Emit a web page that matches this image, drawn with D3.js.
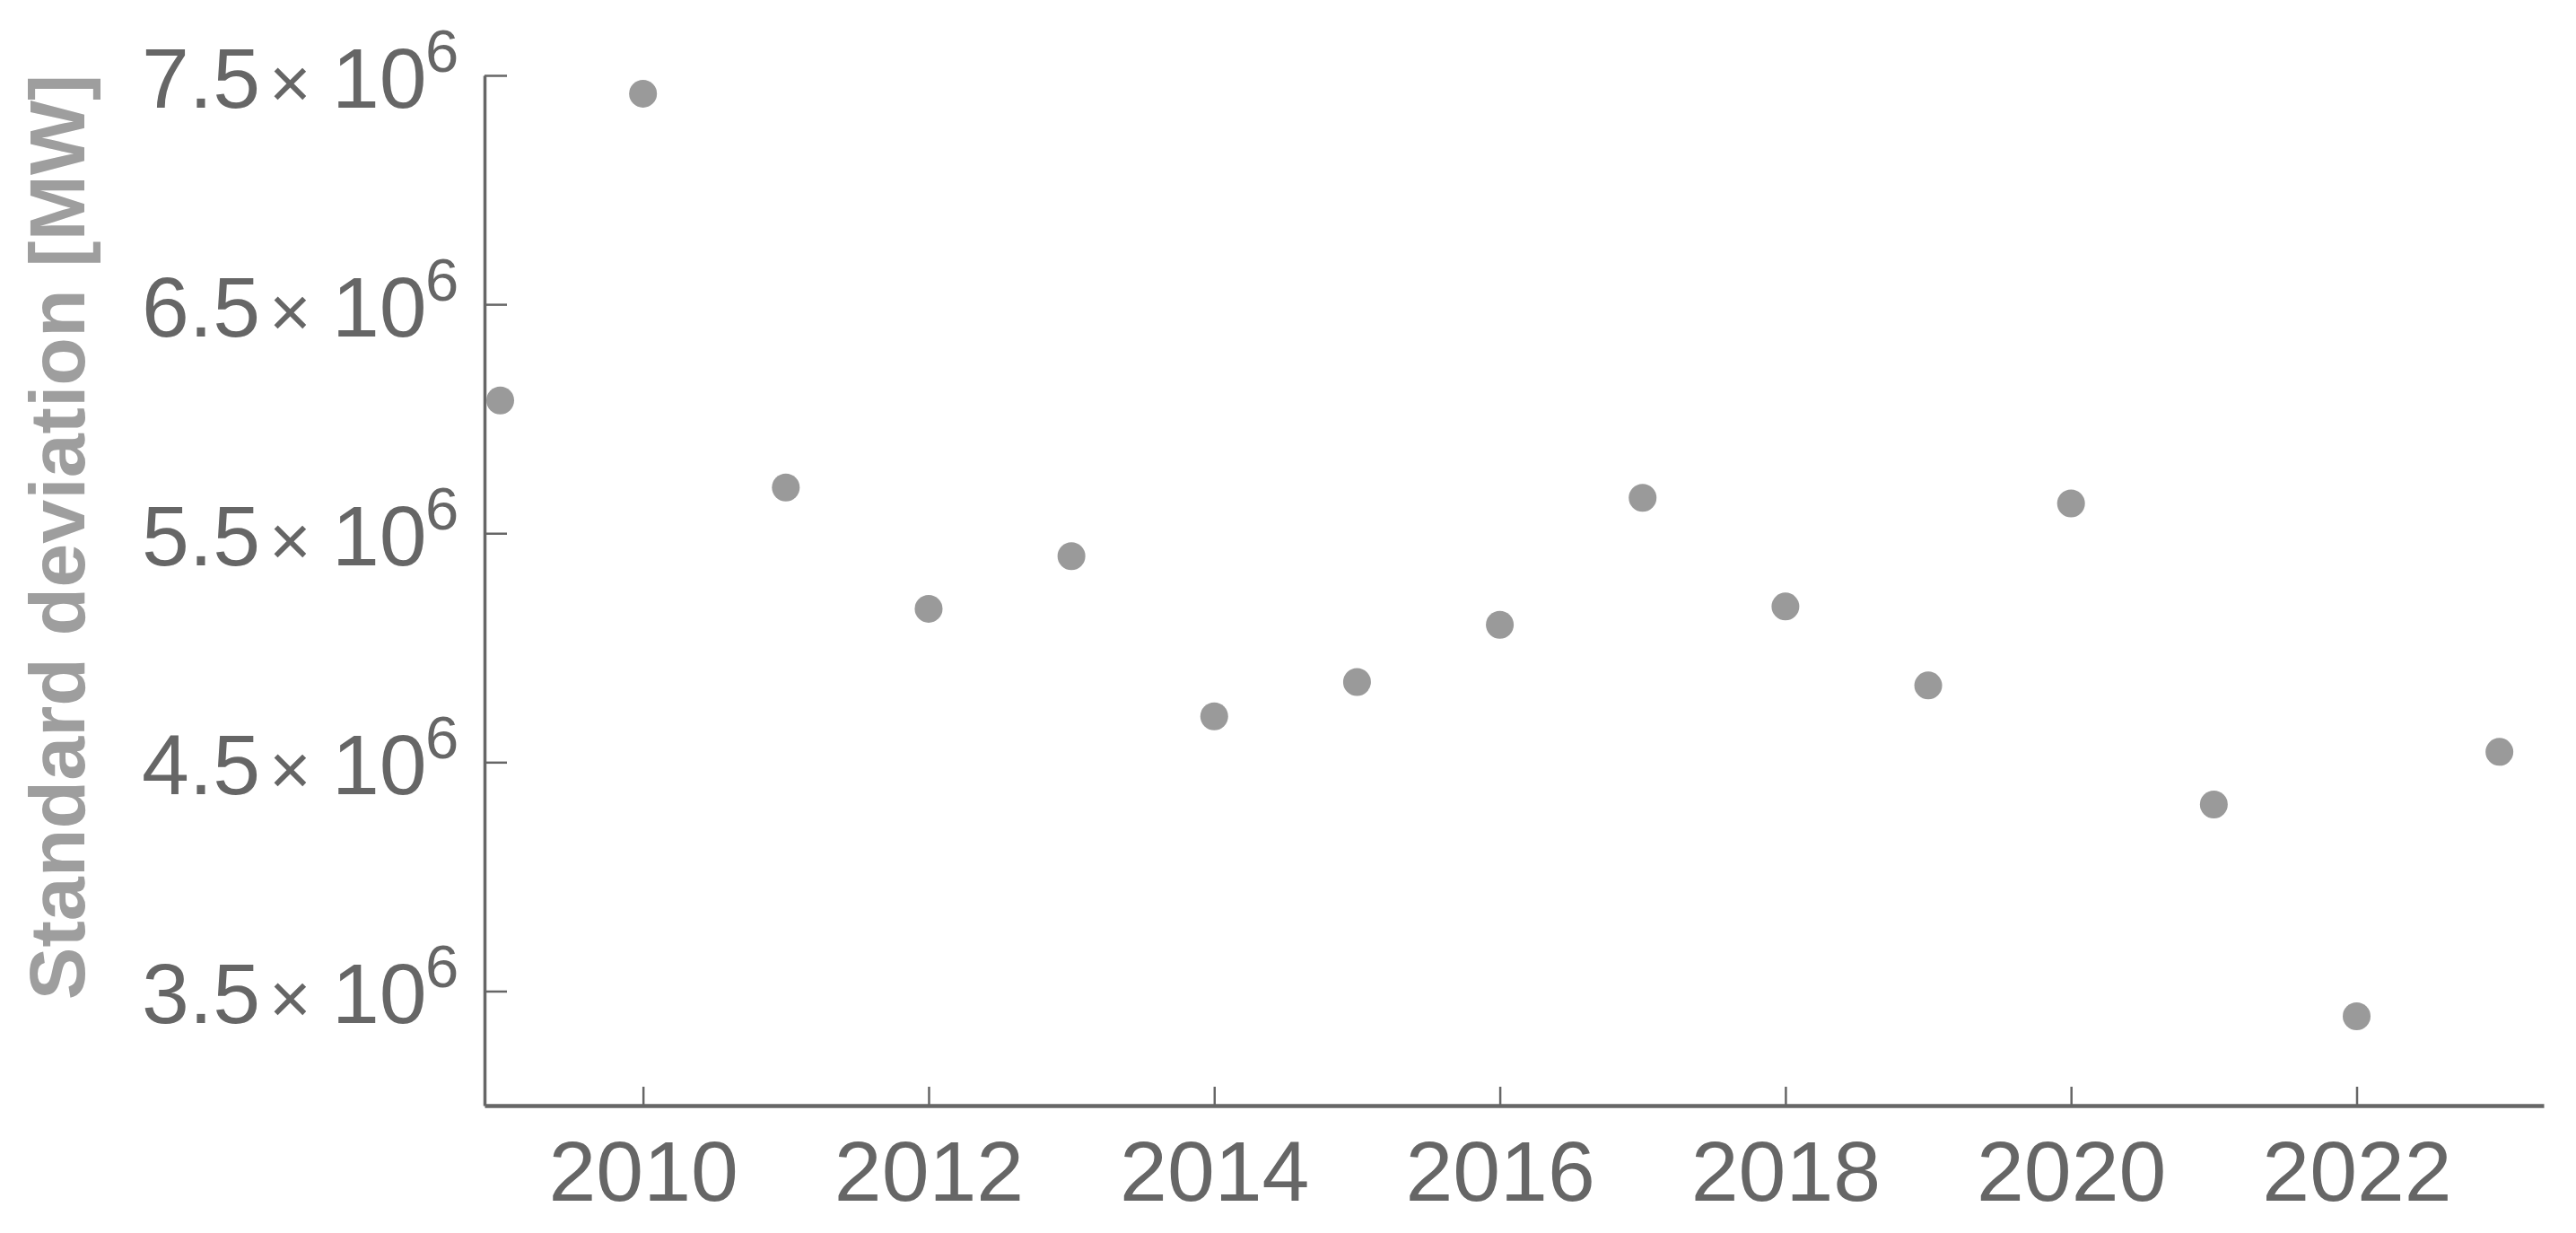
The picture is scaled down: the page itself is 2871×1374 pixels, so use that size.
<!DOCTYPE html>
<html>
<head>
<meta charset="utf-8">
<script src="https://cdn.jsdelivr.net/npm/d3@7"></script>
<style>
  html, body { margin: 0; padding: 0; background: #fff; }
  svg { display: block; font-family: "Liberation Sans", Arial, sans-serif; }
</style>
</head>
<body>
<svg id="chart"></svg>
<script>
const years = [2009, 2010, 2011, 2012, 2013, 2014, 2015, 2016, 2017, 2018, 2019, 2020, 2021, 2022, 2023];
const stdDev = [6.08e6, 7.42e6, 5.70e6, 5.17e6, 5.40e6, 4.70e6, 4.85e6, 5.10e6, 5.655e6, 5.18e6, 4.835e6, 5.63e6, 4.315e6, 3.39e6, 4.545e6];
const xTicks = [2010, 2012, 2014, 2016, 2018, 2020, 2022];
const yTicks = [3.5e6, 4.5e6, 5.5e6, 6.5e6, 7.5e6];
const yTitle = "Standard deviation [MW]";

const width = 2871, height = 1374;
const axisColor = "#666666";

const x = d3.scaleLinear().domain([2008.89, 2023.31]).range([540, 2835]);
const y = d3.scaleLinear().domain([3.0e6, 7.5e6]).range([1232, 84]);

const svg = d3.select("#chart").attr("width", width).attr("height", height);

// y axis, ticks inside, labels like "7.5 × 10^6"
const yAxis = d3.axisLeft(y).tickValues(yTicks).tickSizeInner(-25).tickSizeOuter(0).tickFormat("");
const yAxisGroup = svg.append("g").attr("transform", `translate(${x.range()[0]},0)`).call(yAxis);
yAxisGroup.select(".domain").attr("stroke", axisColor).attr("stroke-width", 3.5);
yAxisGroup.selectAll(".tick line").attr("stroke", axisColor).attr("stroke-width", 2.5);
yAxisGroup.selectAll(".tick text").each(function(d) {
  const t = d3.select(this)
    .attr("x", null).attr("dy", null).attr("y", 35)
    .attr("text-anchor", "start").attr("fill", axisColor)
    .attr("font-size", 95).text(null);
  t.append("tspan").attr("x", -382).text((d / 1e6).toFixed(1));
  t.append("tspan").attr("x", -240).attr("font-size", 80).text("×");
  t.append("tspan").attr("x", -170).text("10");
  t.append("tspan").attr("x", -66).attr("font-size", 67).attr("dy", -40).text("6");
});

// x axis, ticks inside
const xAxis = d3.axisBottom(x).tickValues(xTicks).tickSizeInner(-21).tickSizeOuter(0).tickFormat(d3.format("d"));
const xAxisGroup = svg.append("g").attr("transform", `translate(0,${y.range()[0]})`).call(xAxis);
xAxisGroup.select(".domain").attr("stroke", axisColor).attr("stroke-width", 4.5);
xAxisGroup.selectAll(".tick line").attr("stroke", axisColor).attr("stroke-width", 2.5);
xAxisGroup.selectAll(".tick text")
  .attr("y", 106).attr("dy", null)
  .attr("fill", axisColor).attr("font-size", 95);

// y axis title
svg.append("text")
  .attr("transform", `translate(94,${(86 + 1111) / 2}) rotate(-90)`)
  .attr("text-anchor", "middle")
  .attr("font-size", 88).attr("font-weight", "bold")
  .attr("fill", "#9e9e9e")
  .text(yTitle);

// points
svg.append("g").selectAll("circle").data(years).enter().append("circle")
  .attr("cx", (d) => x(d))
  .attr("cy", (d, i) => y(stdDev[i]))
  .attr("r", 15.5)
  .attr("fill", "#9a9a9a");
</script>
</body>
</html>
